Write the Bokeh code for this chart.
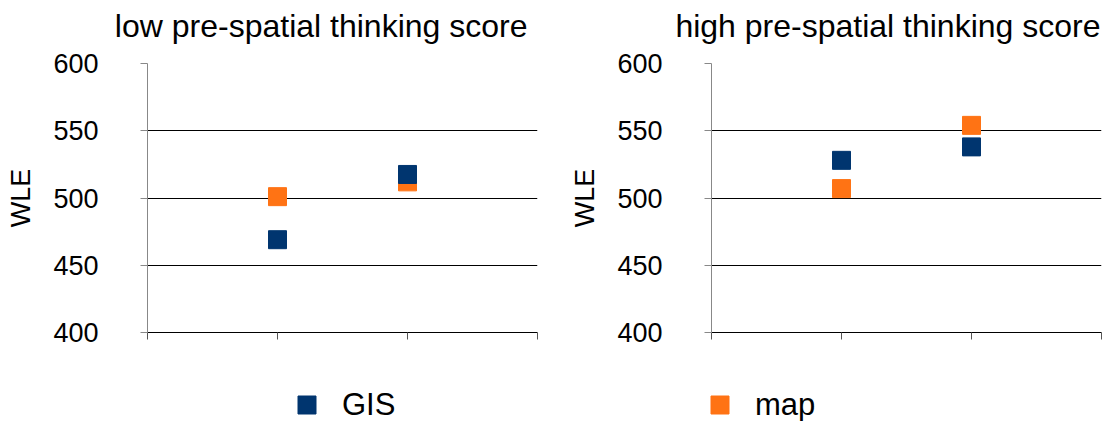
from bokeh.plotting import figure
from bokeh.layouts import row, column
from bokeh.models import FixedTicker, Legend, LegendItem, Range1d, Label
from bokeh.embed import file_html
from bokeh.resources import INLINE

# ---- data ----
panel_titles = ["low pre-spatial thinking score", "high pre-spatial thinking score"]
group_pos = [1, 2]
gis_low = [469, 517.5]
map_low = [501, 512]
gis_high = [528, 538]
map_high = [507, 554]
y_ticks = [400, 450, 500, 550, 600]
x_ticks = [0, 1, 2, 3]
series_names = ["GIS", "map"]
series_colors = ["#00356f", "#ff7314"]

FONT = "Liberation Sans"
TOTAL_W = 1102
TOP_H = 50
LEG_H = 72


def blank_fig(h, y_flip=False):
    f = figure(output_backend="svg", toolbar_location=None, width=TOTAL_W, height=h,
               x_range=Range1d(0, TOTAL_W),
               y_range=Range1d(h, 0) if y_flip else Range1d(0, h),
               x_axis_type=None, y_axis_type=None, min_border=0,
               background_fill_color="white", border_fill_color="white")
    f.outline_line_color = None
    f.grid.visible = False
    return f


# ---- titles row ----
top = blank_fig(TOP_H, y_flip=True)
for txt, xr in zip(panel_titles, [527, 1100]):
    top.add_layout(Label(x=xr, y=25, text=txt, text_align="right", text_baseline="middle",
                         text_font=FONT, text_font_size="32px", text_color="black"))


def make_panel(gis, mp, border_right):
    p = figure(output_backend="svg", toolbar_location=None,
               frame_width=390, frame_height=269,
               min_border_left=147, min_border_right=border_right,
               min_border_top=13, min_border_bottom=17,
               x_range=Range1d(0, 3), y_range=Range1d(400, 600),
               background_fill_color="white", border_fill_color="white")
    p.outline_line_color = None

    ya = p.left[0]
    ya.ticker = FixedTicker(ticks=y_ticks)
    ya.axis_label = "WLE"
    ya.axis_label_text_font = FONT
    ya.axis_label_text_font_size = "27px"
    ya.axis_label_text_font_style = "normal"
    ya.axis_label_text_color = "black"
    ya.axis_label_standoff = 14
    ya.major_label_text_font = FONT
    ya.major_label_text_font_size = "27px"
    ya.major_label_text_color = "black"
    ya.major_label_standoff = 42
    ya.major_tick_out = 7
    ya.major_tick_in = 0
    ya.minor_tick_out = 0
    ya.minor_tick_in = 0
    ya.axis_line_color = "#888888"
    ya.major_tick_line_color = "#888888"

    xa = p.below[0]
    xa.ticker = FixedTicker(ticks=x_ticks)
    xa.major_label_overrides = {t: "" for t in x_ticks}
    xa.major_label_standoff = 2
    xa.major_tick_out = 7
    xa.major_tick_in = 0
    xa.minor_tick_out = 0
    xa.minor_tick_in = 0
    xa.axis_line_color = "black"
    xa.major_tick_line_color = "#555555"

    p.scatter(group_pos, mp, marker="square", size=18,
              fill_color=series_colors[1], line_color=series_colors[1])
    p.scatter(group_pos, gis, marker="square", size=18,
              fill_color=series_colors[0], line_color=series_colors[0])

    p.xgrid.visible = False
    p.ygrid.ticker = FixedTicker(ticks=y_ticks)
    p.ygrid.grid_line_color = "black"
    p.ygrid.grid_line_width = 1
    return p


p1 = make_panel(gis_low, map_low, 27)
p2 = make_panel(gis_high, map_high, 1)

# ---- legend row (legend keys only; NaN point so nothing is plotted) ----
leg = blank_fig(LEG_H)
for name, color, lx in zip(series_names, series_colors, [284, 697]):
    r = leg.scatter(x=[float("nan")], y=[float("nan")], marker="square", size=18,
                    fill_color=color, line_color=color)
    lg = Legend(items=[LegendItem(label=name, renderers=[r])],
                location=(lx, -6), orientation="horizontal",
                glyph_width=45, glyph_height=45, label_standoff=13,
                label_text_font=FONT, label_text_font_size="31px",
                label_text_color="black",
                padding=0, margin=0, spacing=0,
                border_line_alpha=0, background_fill_alpha=0)
    leg.add_layout(lg)

layout = column(top, row(p1, p2), leg)
open("out.html", "w").write(file_html(layout, INLINE))
